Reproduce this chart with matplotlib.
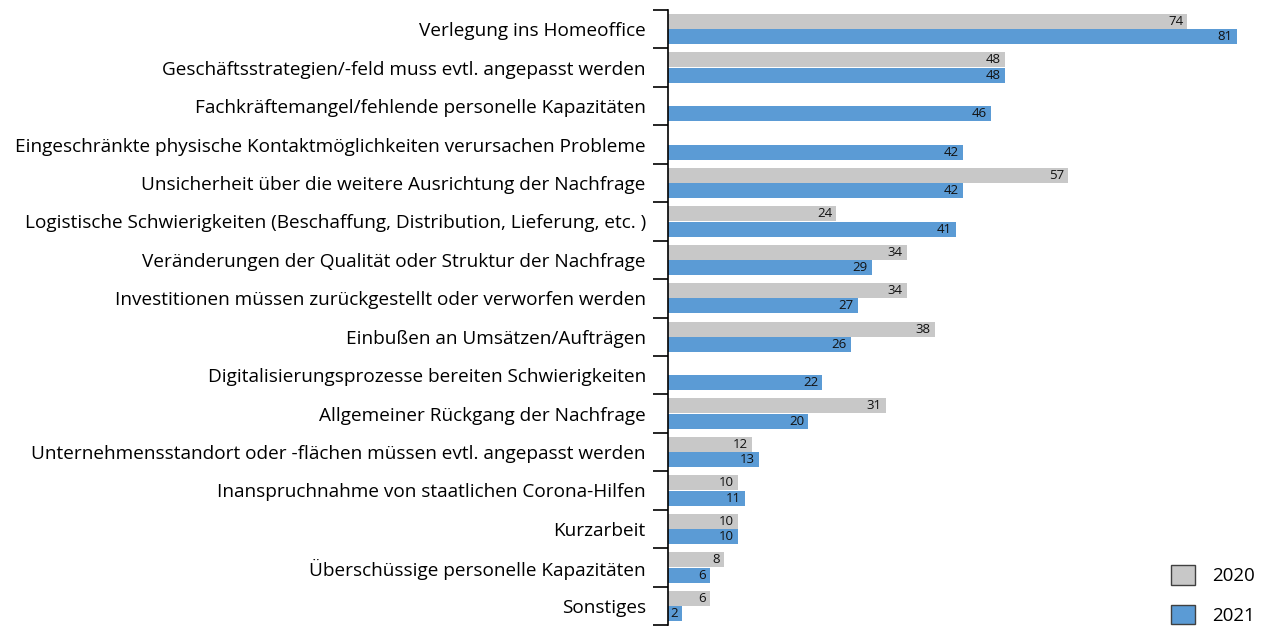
import numpy as np
import matplotlib.pyplot as plt
from matplotlib.patches import Patch

plt.rcParams['font.family'] = ['Open Sans', 'DejaVu Sans']

kategorien = [
    "Verlegung ins Homeoffice",
    "Geschäftsstrategien/-feld muss evtl. angepasst werden",
    "Fachkräftemangel/fehlende personelle Kapazitäten",
    "Eingeschränkte physische Kontaktmöglichkeiten verursachen Probleme",
    "Unsicherheit über die weitere Ausrichtung der Nachfrage",
    "Logistische Schwierigkeiten (Beschaffung, Distribution, Lieferung, etc. )",
    "Veränderungen der Qualität oder Struktur der Nachfrage",
    "Investitionen müssen zurückgestellt oder verworfen werden",
    "Einbußen an Umsätzen/Aufträgen",
    "Digitalisierungsprozesse bereiten Schwierigkeiten",
    "Allgemeiner Rückgang der Nachfrage",
    "Unternehmensstandort oder -flächen müssen evtl. angepasst werden",
    "Inanspruchnahme von staatlichen Corona-Hilfen",
    "Kurzarbeit",
    "Überschüssige personelle Kapazitäten",
    "Sonstiges",
]
werte_2020 = [74, 48, None, None, 57, 24, 34, 34, 38, None, 31, 12, 10, 10, 8, 6]
werte_2021 = [81, 48, 46, 42, 42, 41, 29, 27, 26, 22, 20, 13, 11, 10, 6, 2]

grau = '#C8C8C8'
blau = '#5B9BD5'

fig = plt.figure(figsize=(12.7, 6.26), dpi=100)
ax = fig.add_axes([668/1270, 1 - 625/626, 1 - 668/1270, (625 - 10)/626])

y = np.arange(len(kategorien))
h = 0.39
for i, (a, b) in enumerate(zip(werte_2020, werte_2021)):
    if a is not None:
        ax.barh(i - 0.2, a, height=h, color=grau)
        ax.text(a - 0.6, i - 0.2, str(a), ha='right', va='center', fontsize=9.5, color='#111111')
    ax.barh(i + 0.2, b, height=h, color=blau)
    ax.text(b - 0.6, i + 0.2, str(b), ha='right', va='center', fontsize=9.5, color='#111111')

ax.set_xlim(0, (1270 - 668) / 7.02)
ax.set_ylim(len(kategorien) - 0.5, -0.5)
ax.set_xticks([])
ax.set_yticks(np.arange(-0.5, len(kategorien), 1.0))
ax.set_yticklabels([])
ax.tick_params(axis='y', which='major', length=11, width=1.2, direction='out')
ax.set_yticks(y, minor=True)
ax.set_yticklabels(kategorien, minor=True, fontsize=13.7)
ax.tick_params(axis='y', which='minor', length=0, pad=16)
for s in ['top', 'right', 'bottom']:
    ax.spines[s].set_visible(False)
ax.spines['left'].set_linewidth(1.2)

handles = [Patch(facecolor=grau, edgecolor='#404040', label='2020'),
           Patch(facecolor=blau, edgecolor='#404040', label='2021')]
fig.legend(handles=handles, loc='lower right', bbox_to_anchor=(1255/1270, 1/626),
           frameon=False, fontsize=13.5, handlelength=1.3, handleheight=1.2,
           labelspacing=1.05, handletextpad=0.9, borderpad=0, borderaxespad=0)

fig.savefig('out.png', dpi=100)
